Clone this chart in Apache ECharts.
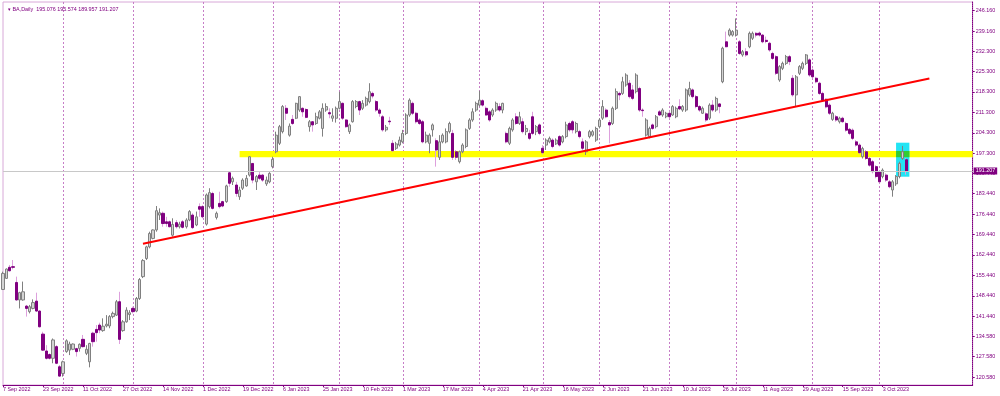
<!DOCTYPE html>
<html><head><meta charset="utf-8">
<script src="https://cdn.jsdelivr.net/npm/echarts@6/dist/echarts.min.js"></script>
<style>html,body{margin:0;padding:0;background:#fff}#c{width:1000px;height:396px}</style>
</head><body><div id="c"></div>
<script>
const symbolName = 'BA';
const timeframe = 'Daily';
const opens = [150.6,154.4,158.2,158.4,153.0,147.0,147.0,144.9,143.0,144.1,146.6,143.2,135.3,129.5,128.3,127.0,131.0,124.1,121.8,129.3,
129.8,130.1,130.3,130.4,133.5,128.7,125.8,135.6,136.9,138.4,136.5,138.1,138.1,141.3,141.8,146.4,136.5,139.5,142.0,144.1,
143.2,147.5,155.0,161.2,165.2,168.1,171.0,176.1,176.7,173.8,173.8,169.2,173.5,172.1,173.8,172.1,174.4,176.1,172.7,179.0,
179.0,173.0,179.0,183.5,175.3,180.1,180.7,180.7,190.6,187.5,186.4,182.4,185.3,186.1,189.8,193.8,187.5,189.8,189.8,186.8,
187.5,192.7,197.8,200.7,204.7,212.7,203.5,208.9,209.3,212.1,212.7,212.3,206.4,208.1,207.5,209.3,205.8,212.1,211.2,209.3,
209.3,212.7,214.4,208.7,204.7,208.1,213.3,215.0,212.7,213.8,215.0,217.8,215.0,212.1,209.8,205.3,208.3,200.7,199.0,200.1,
201.2,204.1,210.4,214.4,211.0,208.7,208.1,201.2,200.7,205.3,201.6,195.9,201.2,201.2,204.7,204.1,197.8,194.4,197.8,199.6,
205.8,208.7,212.1,213.8,215.3,212.7,211.5,210.4,212.1,213.3,212.1,204.1,200.7,205.3,209.8,207.5,208.1,204.7,204.1,209.8,
204.7,207.0,199.0,200.1,201.2,201.8,200.5,203.0,201.2,203.0,207.5,208.1,204.7,204.7,201.2,197.8,203.0,203.5,201.8,206.4,
209.3,212.1,207.8,207.5,212.7,217.8,217.8,220.7,221.3,219.0,218.4,219.5,212.1,203.5,203.0,207.0,206.4,211.5,210.4,209.8,
211.0,210.4,209.8,213.3,212.1,212.1,217.3,219.0,216.7,213.3,211.0,210.8,209.3,213.8,212.1,214.2,221.8,235.5,237.8,237.8,
237.8,235.5,231.0,232.1,233.8,236.7,238.4,238.5,237.8,236.0,235.0,231.5,230.4,222.4,226.4,228.1,230.4,223.0,217.3,224.7,
226.4,228.1,229.3,225.8,223.0,221.3,217.8,215.8,213.8,208.9,209.8,208.1,209.3,207.5,205.5,205.2,201.2,200.1,196.1,197.8,
195.5,194.4,192.7,191.0,189.3,189.8,187.5,184.7,186.8,189.3,195.5,195.076];
const highs = [156.7,157.8,159.0,160.7,155.0,149.8,153.3,145.3,145.3,147.2,149.5,143.5,136.1,131.5,128.7,133.8,131.5,124.7,126.2,133.5,
132.7,132.1,130.6,132.1,135.0,131.5,132.3,136.1,138.4,139.2,140.7,141.8,141.8,143.0,147.0,149.8,140.1,144.5,143.5,144.7,
148.0,154.5,161.0,165.6,170.4,171.2,179.2,178.4,177.3,175.5,174.2,175.0,174.4,173.8,174.4,175.0,177.8,176.7,177.3,180.1,
179.5,183.5,185.3,184.1,177.3,184.1,181.0,186.5,191.0,189.3,187.5,185.8,188.7,189.8,196.3,193.8,189.8,191.0,190.1,189.3,
190.8,196.1,204.7,207.0,213.8,213.8,207.5,210.4,214.6,216.9,213.0,212.7,208.7,208.3,211.2,212.1,214.4,214.4,212.7,212.7,
213.3,218.4,214.7,209.0,207.5,215.5,215.5,215.3,215.5,216.7,221.3,218.4,215.5,212.7,210.4,207.0,209.8,201.8,201.2,203.0,
205.3,211.0,216.1,215.0,211.5,209.3,208.7,204.7,204.1,207.5,202.4,203.5,204.1,205.8,208.1,205.3,198.4,198.2,200.7,205.8,
209.3,212.7,215.0,218.7,215.8,213.3,212.1,212.7,215.0,214.4,214.6,204.7,206.4,209.3,211.0,211.5,209.3,207.0,205.3,211.5,
207.0,207.5,200.1,202.4,203.0,202.4,202.4,203.5,203.5,208.1,208.1,208.7,208.1,205.3,202.4,201.8,205.3,205.3,206.4,209.3,
215.5,212.7,208.7,213.3,219.5,218.4,223.5,224.7,222.4,220.7,224.7,220.1,212.7,209.3,206.4,207.5,210.4,212.1,212.7,211.5,
211.5,213.8,213.3,215.8,213.8,219.5,221.8,219.5,217.3,213.8,213.3,211.3,214.4,215.5,216.7,214.4,233.8,239.0,240.1,239.5,
243.5,236.1,232.7,233.3,239.0,239.0,238.8,239.0,238.1,237.3,235.5,232.1,230.9,227.5,228.7,231.0,231.0,224.1,224.1,227.5,
228.7,231.3,229.8,226.4,223.5,221.8,218.4,216.1,214.4,211.5,210.4,209.8,209.8,208.1,206.0,205.8,201.8,200.7,199.5,198.4,
196.1,195.0,193.2,191.5,192.1,190.4,188.1,188.1,189.8,194.4,199.8,195.574];
const lows = [150.4,154.2,156.8,157.5,146.8,144.1,146.75,141.3,142.4,143.8,143.0,137.6,129.5,126.6,126.6,125.3,125.0,120.7,120.7,128.9,
128.1,129.8,127.6,129.3,130.7,128.1,123.9,131.0,132.7,135.6,136.1,137.6,137.3,140.7,141.5,131.9,136.1,139.2,140.1,142.4,
142.8,147.0,154.5,160.7,164.7,167.8,170.4,174.4,172.1,172.1,171.9,168.7,171.5,171.5,171.5,171.5,174.0,171.3,172.3,175.5,
175.0,172.5,178.4,178.0,174.6,178.4,178.8,180.3,185.8,186.4,182.4,181.3,184.7,185.8,189.3,187.0,184.7,188.1,187.5,186.1,
187.0,192.1,197.3,200.1,204.1,208.7,203.0,207.0,209.0,211.5,209.8,209.3,204.7,204.7,207.0,208.9,203.0,211.5,209.3,208.1,
207.8,212.3,208.7,206.0,203.9,207.8,212.7,210.4,212.1,213.3,214.4,216.1,211.5,209.8,204.7,204.7,207.0,197.8,198.4,199.6,
200.7,203.5,209.8,210.4,207.5,207.0,200.7,200.7,197.3,203.0,192.7,195.0,200.7,200.7,204.1,195.0,195.0,193.8,197.3,199.0,
205.3,208.1,211.5,213.3,213.3,210.1,208.1,209.8,211.5,211.5,211.0,200.7,200.1,204.7,207.0,207.0,204.1,203.5,201.8,203.5,
203.5,203.5,196.9,198.4,200.7,199.0,200.1,199.6,200.7,202.4,204.7,204.1,204.1,202.4,198.4,196.7,202.4,203.0,201.2,205.8,
208.7,209.3,200.7,207.0,212.1,215.5,217.3,220.1,216.1,215.5,217.8,211.5,209.8,203.0,202.4,205.3,205.8,210.1,209.8,209.3,
209.3,210.1,209.3,212.1,211.5,211.5,216.7,216.1,212.7,211.5,210.8,208.1,208.7,211.5,211.5,211.0,221.3,233.6,237.3,237.3,
237.3,231.0,230.4,230.4,233.3,236.1,237.0,237.3,235.0,235.0,232.1,229.3,224.1,221.8,225.8,227.5,227.5,216.7,213.2,224.1,
225.8,227.5,223.5,223.0,221.3,217.3,215.0,212.7,210.4,208.4,208.1,207.5,207.8,204.7,203.5,201.8,199.6,197.0,195.5,195.0,
192.7,190.4,188.7,187.0,188.7,187.5,185.3,182.4,186.1,188.7,195.0,189.957];
const closes = [156.1,157.6,157.0,158.2,147.0,149.5,149.8,144.1,144.7,146.1,143.2,137.8,129.8,127.0,127.0,133.3,125.3,120.9,125.8,133.0,
131.9,131.9,129.3,131.8,131.0,130.1,132.1,132.7,135.8,136.7,138.0,138.7,141.3,142.4,146.4,133.5,139.5,143.5,142.6,143.0,
147.5,154.0,160.5,165.2,169.8,171.0,177.6,176.9,173.2,173.2,172.1,172.9,172.1,173.0,171.9,174.4,177.3,171.8,175.5,178.1,
175.5,183.0,183.8,178.4,176.7,179.0,179.2,186.1,187.0,188.7,183.5,184.7,188.1,188.7,196.1,188.1,189.3,188.7,188.1,188.1,
190.4,195.2,203.5,206.4,213.3,211.0,206.6,207.5,214.4,216.7,211.5,209.6,208.1,207.0,209.8,211.5,212.7,213.3,210.8,210.1,
212.7,215.0,209.3,206.4,207.0,215.0,215.0,212.1,214.4,216.1,218.4,216.9,212.1,211.0,205.3,206.2,208.1,198.2,200.5,201.8,
204.1,210.4,215.5,211.0,208.1,207.5,201.2,203.5,203.5,207.0,198.4,201.2,203.5,204.7,207.5,195.9,195.9,197.8,200.1,205.3,
208.7,211.5,214.4,215.5,213.8,210.4,208.7,212.1,214.4,212.1,214.4,201.2,205.8,208.7,207.5,209.8,204.7,205.8,202.4,204.1,
206.4,204.1,197.5,201.8,202.4,199.6,201.8,200.1,203.0,207.0,205.3,205.3,207.5,203.0,199.0,201.2,204.7,204.7,205.8,208.7,
213.3,209.8,207.0,212.7,218.4,217.3,221.8,224.1,216.7,216.1,224.1,212.1,211.9,208.7,205.8,205.8,209.8,210.4,212.1,211.0,
209.8,213.3,212.7,212.5,213.3,219.0,219.5,216.7,213.3,212.1,212.7,208.7,213.8,212.1,216.1,213.3,233.3,233.8,239.5,239.0,
239.5,231.5,232.1,231.0,238.4,238.4,237.8,237.8,235.5,235.6,232.7,229.8,224.7,227.0,228.1,230.4,228.7,217.3,223.5,227.0,
228.1,231.0,224.1,223.5,221.8,217.8,215.5,213.2,211.0,211.0,208.7,209.3,208.1,205.2,204.1,202.4,200.1,197.5,198.9,195.5,
193.2,191.0,189.3,187.5,191.5,188.1,185.8,187.5,189.3,193.8,197.8,191.207];
const dateLabels = ['7 Sep 2022','23 Sep 2022','11 Oct 2022','27 Oct 2022','14 Nov 2022','1 Dec 2022','19 Dec 2022','6 Jan 2023',
'25 Jan 2023','10 Feb 2023','1 Mar 2023','17 Mar 2023','4 Apr 2023','21 Apr 2023','16 May 2023','2 Jun 2023','21 Jun 2023',
'10 Jul 2023','26 Jul 2023','11 Aug 2023','29 Aug 2023','15 Sep 2023','3 Oct 2023'];
const labelStep = 12;
const monthStarts = [18,39,60,81,101,120,143,162,179,200,220,243,263];
const priceTicks = [120.58,127.58,134.58,141.44,148.44,155.44,162.44,169.44,176.44,183.44,190.44,197.30,204.30,211.30,218.30,225.30,232.30,239.16,246.16];
const lastPrice = 191.207;
const supportZone = [195.94, 198.06];
const supportZoneStart = 71;
const highlightBox = [268, 272, 189.25, 200.91];
const trendLine = [[42, 166.3], [278, 222.9]];
const totalSlots = 292;

const cats = Array.from({length: totalSlots}, (_, i) => String(i));
const wickData = opens.map((o, i) => [o, closes[i], lows[i], highs[i]]);
const bodyData = opens.map((o, i) => [o, closes[i], Math.min(o, closes[i]), Math.max(o, closes[i])]);
const last = opens.length - 1;
const fmt = v => v.toFixed(3);
const header = '\u25BE ' + symbolName + ',' + timeframe + '  ' + fmt(opens[last]) + ' ' + fmt(highs[last]) + ' ' + fmt(lows[last]) + ' ' + fmt(closes[last]);
const isLabelIdx = i => i % labelStep === 0 && i / labelStep < dateLabels.length;

const FG = '#800080';
const FONT = 'Liberation Sans';
const chart = echarts.init(document.getElementById('c'), null, {renderer: 'canvas'});
chart.setOption({
  animation: false,
  backgroundColor: '#ffffff',
  textStyle: {fontFamily: FONT},
  title: {text: header, left: 3, top: 2, textStyle: {fontSize: 5.4, color: FG, fontWeight: 'normal', fontFamily: FONT}},
  grid: {left: 1.63, right: 27.3, top: 2, bottom: 11, show: true, borderColor: '#d8a8d8', borderWidth: 1},
  xAxis: {
    type: 'category', data: cats, boundaryGap: false,
    axisLine: {lineStyle: {color: FG, width: 1}},
    axisTick: {show: true, interval: isLabelIdx, length: 2, lineStyle: {color: FG}},
    axisLabel: {interval: isLabelIdx,
      formatter: (v, i) => dateLabels[i / labelStep] || '', align: 'left', margin: 2,
      fontSize: 5.4, color: FG, fontFamily: FONT},
    splitLine: {show: true, interval: i => monthStarts.includes(i), lineStyle: {color: '#c77dc7', type: [2, 2], width: 1}}
  },
  yAxis: {
    type: 'value', position: 'right', min: 117.85, max: 249.14,
    axisLine: {show: true, lineStyle: {color: FG, type: [1, 1]}},
    axisTick: {show: true, customValues: priceTicks, length: 2, lineStyle: {color: FG}},
    axisLabel: {customValues: priceTicks, formatter: v => fmt(v), fontSize: 5.4, color: FG, margin: 3, fontFamily: FONT},
    splitLine: {show: false}
  },
  series: [
    {type: 'line', data: [], z: 1, silent: true,
      markArea: {silent: true, data: [
        [{xAxis: supportZoneStart, yAxis: supportZone[1], itemStyle: {color: '#ffff00'}}, {xAxis: totalSlots - 1, yAxis: supportZone[0]}],
        [{xAxis: highlightBox[0], yAxis: highlightBox[3], itemStyle: {color: '#22e4f4'}}, {xAxis: highlightBox[1], yAxis: highlightBox[2]}],
        [{xAxis: highlightBox[0], yAxis: supportZone[1], itemStyle: {color: '#33cc33'}}, {xAxis: highlightBox[1], yAxis: supportZone[0]}]
      ]},
      markLine: {silent: true, symbol: 'none', lineStyle: {color: '#c8c8c8', width: 1, type: 'solid'},
        label: {show: true, position: 'end', formatter: () => fmt(lastPrice), color: '#ffffff', backgroundColor: FG,
          fontSize: 5.4, padding: [1, 2, 1, 2], distance: 1, fontFamily: FONT},
        data: [{yAxis: lastPrice}]}
    },
    {type: 'candlestick', name: 'wick', data: wickData, z: 2, barWidth: 1, clip: false, silent: true,
      itemStyle: {color: '#808080', color0: '#dda0dd', borderColor: '#808080', borderColor0: '#dda0dd', borderWidth: 1}},
    {type: 'candlestick', name: 'body', data: bodyData, z: 3, barWidth: 2.6, clip: false, silent: true,
      itemStyle: {color: '#d3d3d3', color0: '#800080', borderColor: '#808080', borderColor0: '#800080', borderWidth: 1}},
    {type: 'line', name: 'trend', data: trendLine, z: 5, symbol: 'none', silent: true,
      lineStyle: {color: '#ff0000', width: 2}}
  ]
});
</script></body></html>
